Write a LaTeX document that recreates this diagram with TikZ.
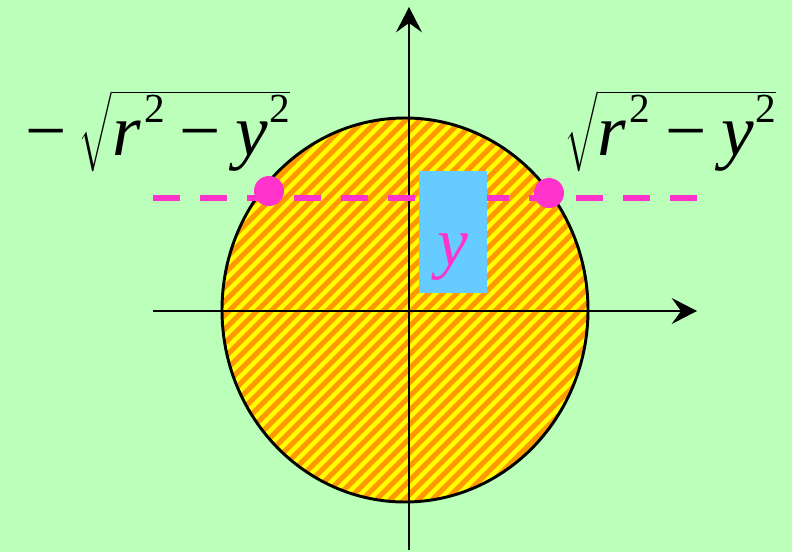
\documentclass[tikz,border=0pt]{standalone}
\usepackage{exscale}
\usepackage{fontspec}
\setmainfont{LiberationSerif}[Extension=.ttf, UprightFont=*-Regular, ItalicFont=*-Italic,
  BoldFont=*-Bold, BoldItalicFont=*-BoldItalic]
\usepackage{tikz}
\usetikzlibrary{arrows.meta}
\usepackage{xcolor}
\definecolor{bggreen}{RGB}{187,255,187}
\definecolor{discorange}{RGB}{255,153,0}
\definecolor{stripeyellow}{RGB}{255,255,0}
\definecolor{yboxblue}{RGB}{102,204,255}
\definecolor{pinkline}{RGB}{255,51,204}
\newcommand{\sqd}{\raisebox{25pt}{\fontsize{31}{31}\selectfont\upshape 2}}
\newcommand{\rootexpr}{$\sqrt{\mbox{\itshape r\hspace{3pt}\sqd\hspace{11pt}\upshape −\hspace{11pt}\itshape y\hspace{1pt}\sqd}}$}

\begin{document}
\begin{tikzpicture}[x=0.75pt, y=-0.75pt,
  axis/.style={line width=1.5pt, ->},
  stripe/.style={stripeyellow, line width=3.2pt},
  dot/.style={circle, fill=pinkline, minimum size=22.5pt, inner sep=0pt},
  ybox/.style={fill=yboxblue, text=pinkline, minimum width=51pt, minimum height=91.5pt,
    inner sep=0pt, text height=50pt, text depth=0pt, font=\fontsize{52}{60}\selectfont\itshape},
  rootlab/.style={inner sep=0pt, font=\fontsize{55}{64}\selectfont},
  >={Stealth[length=19pt,width=19.5pt,inset=7pt]}]
\path[use as bounding box, fill=bggreen] (0,0) rectangle (792,552);
\coordinate (O) at (405,310);
\fill[discorange] (O) ellipse [x radius=137.25pt, y radius=144pt];
\begin{scope}
  \clip (O) ellipse [x radius=137.25pt, y radius=144pt];
  \foreach \k in {-30,...,30}
    \draw[stripe] (405+\k*14-220,530) -- ++(440,-440);
\end{scope}
\draw[line width=2.2pt] (O) ellipse [x radius=137.25pt, y radius=144pt];
\coordinate (xs) at (153,311);
\coordinate (xe) at (697,311);
\coordinate (ys) at (409,550);
\coordinate (ye) at (409,7);
\draw[axis] (xs) -- (xe);
\draw[axis] (ys) -- (ye);
\coordinate (dashL) at (153,198);
\coordinate (dashR) at (697,198);
\draw[pinkline, line width=5pt, dash pattern=on 20.25pt off 15pt] (dashL) -- (dashR);
\node[ybox] (yb) at (453,232) {y};
\node[dot] (dotL) at (269,191) {};
\node[dot] (dotR) at (549,193) {};
\node[rootlab] (llab) at (158,131) {−\hspace{9pt}\rootexpr};
\node[rootlab] (rlab) at (670,131) {\rootexpr};
\end{tikzpicture}
\end{document}
